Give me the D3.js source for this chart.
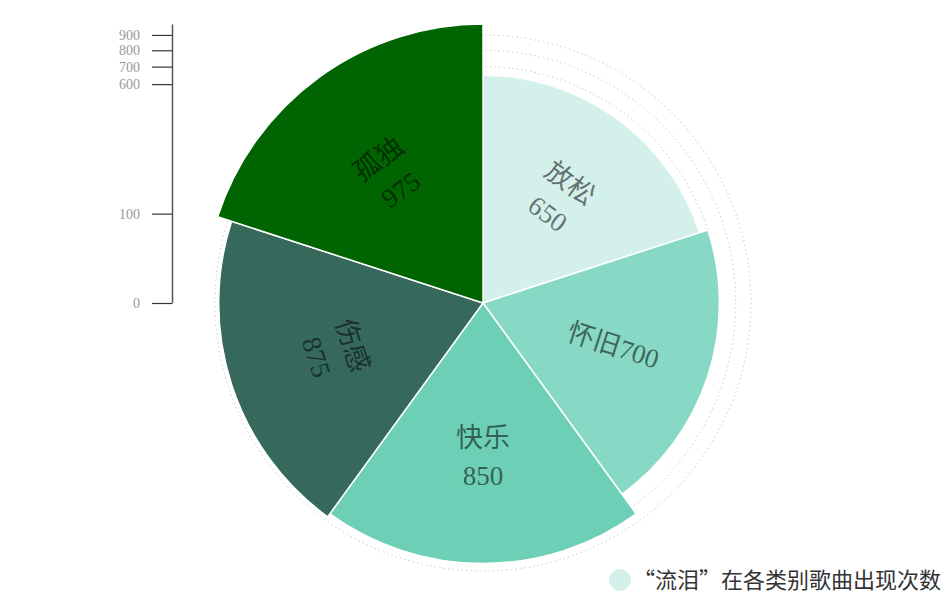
<!DOCTYPE html>
<html>
<head>
<meta charset="utf-8">
<script src="https://cdn.jsdelivr.net/npm/d3@7/dist/d3.min.js"></script>
<style>
  body { margin: 0; background: #fff; }
  svg text { font-family: "Liberation Serif", "Noto Sans CJK SC", serif; }
  svg text.legend-text { font-family: "Noto Sans CJK SC", sans-serif; font-feature-settings: "fwid"; }
</style>
</head>
<body>
<svg id="chart" width="948" height="596"></svg>
<script>
const categories = ["放松", "怀旧", "快乐", "伤感", "孤独"];
const values = [650, 700, 850, 875, 975];
const colors = ["#d3f0eb", "#87d8c4", "#6dcfb6", "#36695c", "#006400"];
// how each label is turned: along the arc, or pointing out from the centre
const labelModes = ["tangential", "radial", "tangential", "tangential", "tangential"];
const tickValues = [0, 100, 600, 700, 800, 900];
const gridValues = [600, 700, 800, 900];
const legendText = "“流泪”在各类别歌曲出现次数";

const svg = d3.select("#chart");
const cx = 483, cy = 303, maxR = 279;

const r = d3.scaleSqrt()
  .domain([0, d3.max(values)])
  .range([0, maxR]);

const data = categories.map((c, i) => ({ name: c, value: values[i], color: colors[i], mode: labelModes[i] }));

const g = svg.append("g").attr("transform", `translate(${cx},${cy})`);

// dotted rings behind the slices
g.selectAll("circle.grid")
  .data(gridValues)
  .join("circle")
  .attr("class", "grid")
  .attr("r", d => r(d))
  .attr("fill", "none")
  .attr("stroke", "#c8c8c8")
  .attr("stroke-width", 1)
  .attr("stroke-dasharray", "1.5,3");

// equal angles, radius by value
const pie = d3.pie().sort(null).value(() => 1);
const arcs = pie(data);

const arc = d3.arc()
  .innerRadius(0)
  .outerRadius(d => r(d.data.value));

g.selectAll("path.slice")
  .data(arcs)
  .join("path")
  .attr("class", "slice")
  .attr("d", arc)
  .attr("fill", d => d.data.color)
  .attr("stroke", "#fff")
  .attr("stroke-width", 1.5);

// labels
const labels = g.selectAll("g.label")
  .data(arcs)
  .join("g")
  .attr("class", "label")
  .attr("transform", d => {
    const mid = (d.startAngle + d.endAngle) / 2;
    const dist = r(d.data.value) * 0.58;
    const x = Math.sin(mid) * dist;
    const y = -Math.cos(mid) * dist;
    let deg = mid * 180 / Math.PI;
    let rot;
    if (d.data.mode === "radial") {
      rot = deg - 90;
      if (rot > 90) rot -= 180;
    } else {
      rot = deg;
      if (rot > 90 && rot < 270) rot -= 180;
      else if (rot >= 270) rot -= 360;
    }
    return `translate(${x},${y}) rotate(${rot})`;
  });

labels.each(function(d) {
  const t = d3.select(this).append("text")
    .attr("text-anchor", "middle")
    .attr("fill", "#000")
    .attr("fill-opacity", 0.55)
    .attr("font-size", "27px");
  if (d.data.mode === "radial") {
    t.attr("dy", "0.35em").text(d.data.name + d.data.value);
  } else {
    t.append("tspan").attr("x", 0).attr("dy", "-0.25em").text(d.data.name);
    t.append("tspan").attr("x", 0).attr("dy", "1.4em").text(d.data.value);
  }
});

// value axis on the left
const y = d3.scaleSqrt()
  .domain([0, d3.max(values)])
  .range([cy, cy - maxR]);

const axis = svg.append("g")
  .attr("transform", "translate(172,0)")
  .call(d3.axisLeft(y).tickValues(tickValues).tickSize(20).tickSizeOuter(0).tickPadding(12));

axis.select(".domain").attr("stroke", "#555").attr("stroke-width", 1.5);
axis.selectAll(".tick line").attr("stroke", "#333").attr("stroke-width", 1.2);
axis.selectAll(".tick text")
  .attr("fill", "#999")
  .style("font-size", "14px");

// legend
const legend = svg.append("g").attr("transform", "translate(620,580)");
legend.append("circle").attr("r", 11).attr("fill", colors[0]);
legend.append("text")
  .attr("class", "legend-text")
  .attr("x", 13)
  .attr("dy", "0.35em")
  .attr("font-size", "22px")
  .attr("fill", "#333")
  .text(legendText);
</script>
</body>
</html>
